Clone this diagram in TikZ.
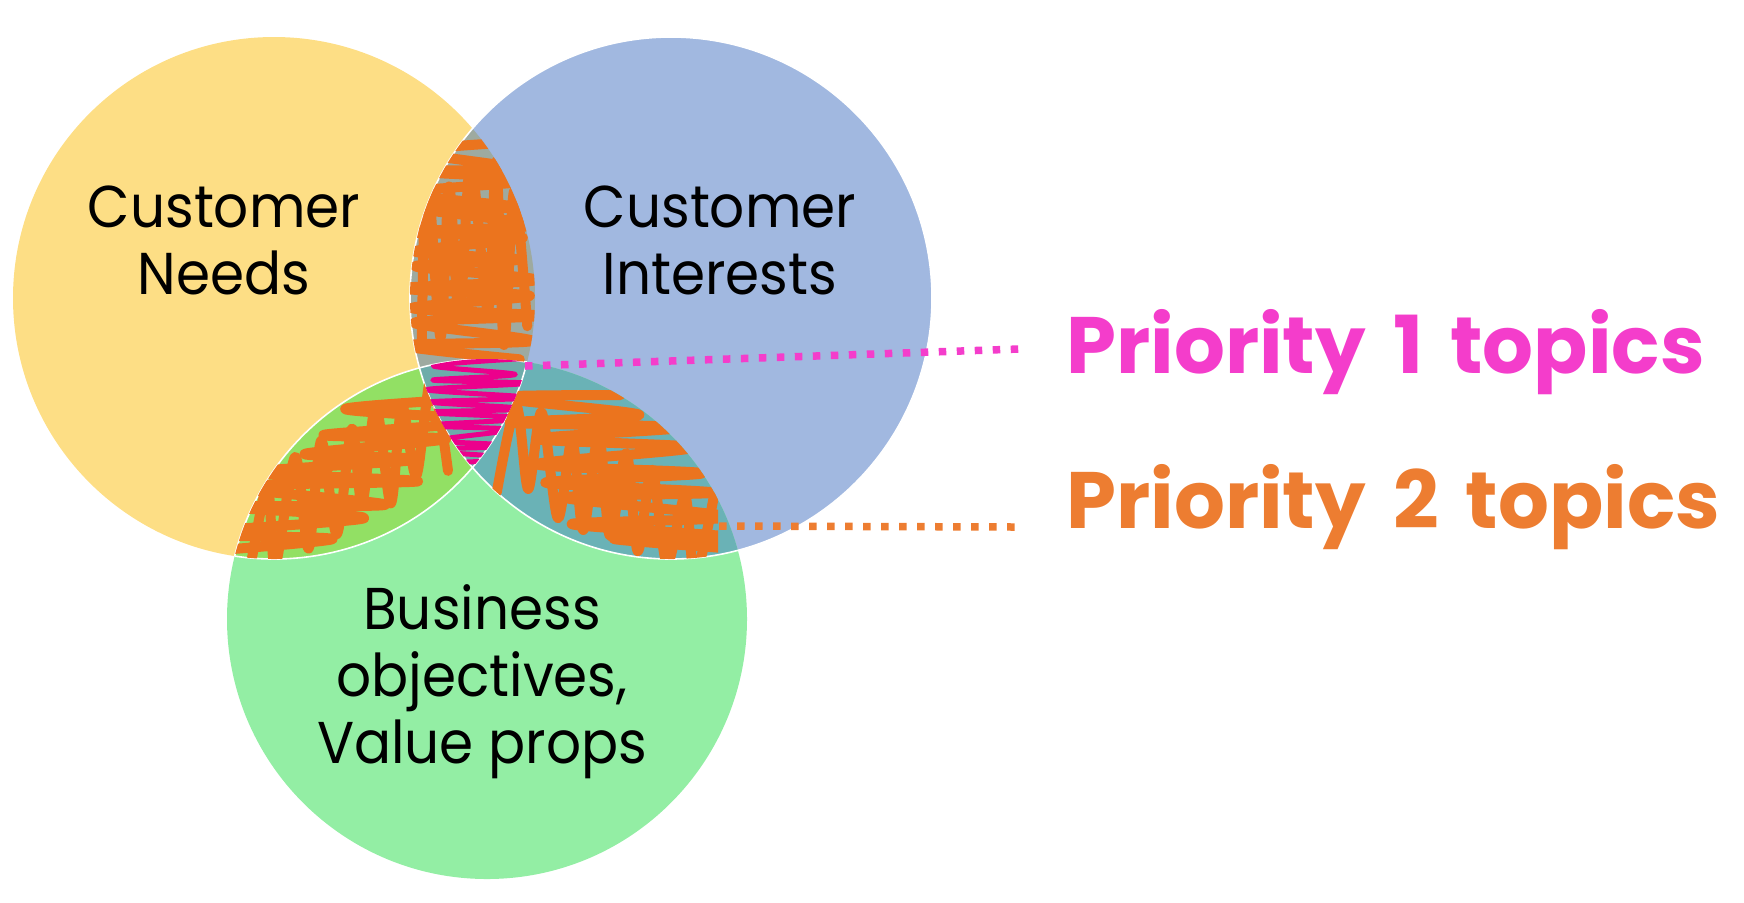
\documentclass[tikz,border=0pt]{standalone}
\usepackage{fontspec}
\setmainfont{Poppins}
\newfontfamily\vennfont[FakeStretch=0.93]{Poppins}
\newfontfamily\priofont[WordSpace=1.6]{Poppins}
\definecolor{needsyellow}{RGB}{253,222,133}
\definecolor{interestblue}{RGB}{161,184,224}
\definecolor{bizgreen}{RGB}{147,238,164}
\definecolor{ybgray}{RGB}{158,170,160}
\definecolor{yggreen}{RGB}{146,224,100}
\definecolor{bgteal}{RGB}{106,178,182}
\definecolor{ybgteal}{RGB}{110,172,170}
\definecolor{scribbleorange}{RGB}{235,116,30}
\definecolor{scribblepink}{RGB}{236,0,140}
\definecolor{prioonepink}{RGB}{244,61,203}
\definecolor{priotwoorange}{RGB}{237,125,49}
\tikzset{
  venntext/.style={align=center, inner sep=0pt, font=\vennfont\fontsize{29.5}{33.5}\selectfont},
  prio/.style={anchor=base west, inner sep=0pt, font=\priofont\bfseries\fontsize{40}{48}\selectfont},
  scribble/.style={line width=5pt, line cap=round, line join=round},
  dotline/.style={line width=3.75pt, dash pattern=on 3.75pt off 5.25pt}
}
\begin{document}
\begin{tikzpicture}[x=0.5pt,y=-0.5pt]
  \useasboundingbox (0,0) rectangle (1744,902);
  \coordinate (cy) at (274,298);
  \coordinate (cb) at (671,298);
  \coordinate (cg) at (487,619);
  \fill[needsyellow] (cy) circle[radius=130.5pt];
  \fill[interestblue] (cb) circle[radius=130.5pt];
  \fill[bizgreen] (cg) circle[radius=130pt];
  \begin{scope}
    \clip (cy) circle[radius=130.5pt];
    \fill[ybgray] (cb) circle[radius=130.5pt];
    \fill[yggreen] (cg) circle[radius=130pt];
  \end{scope}
  \begin{scope}
    \clip (cb) circle[radius=130.5pt];
    \fill[bgteal] (cg) circle[radius=130pt];
    \clip (cy) circle[radius=130.5pt];
    \fill[ybgteal] (cg) circle[radius=130pt];
  \end{scope}
  \begin{scope}[white, line width=0.8pt]
    \draw (cb) circle[radius=130.5pt];
    \begin{scope}
      \clip (cy) circle[radius=130.5pt];
      \draw (cg) circle[radius=130pt];
    \end{scope}
    \begin{scope}
      \clip (cg) circle[radius=130pt];
      \draw (cy) circle[radius=130.5pt];
    \end{scope}
  \end{scope}
  \pgfmathsetseed{17}
  \begin{scope}[even odd rule]
    \clip (cy) circle[radius=130.5pt];
    \clip (cb) circle[radius=130.5pt];
    \clip (0,0) rectangle (1744,902) (cg) circle[radius=130pt];
    \draw[scribble, scribbleorange] plot[smooth, variable=\t, samples=23, domain=0:22]
      ({468+72*cos(180*\t)*(0.7+0.3*rnd)}, {146+9.5*\t+5*rand});
    \draw[scribble, scribbleorange] plot[smooth, variable=\t, samples=11, domain=0:10]
      ({418+11*\t+4*rand}, {250+95*cos(180*\t)*(0.6+0.4*rnd)});
  \end{scope}
  \begin{scope}[even odd rule]
    \clip (cy) circle[radius=130.5pt];
    \clip (0,0) rectangle (1744,902) (cb) circle[radius=130.5pt];
    \clip (cg) circle[radius=130pt];
    \draw[scribble, scribbleorange] plot[smooth, variable=\t, samples=16, domain=0:15]
      ({425-12*\t+90*cos(180*\t)*(0.6+0.4*rnd)}, {400+10*\t+5*rand});
    \draw[scribble, scribbleorange] plot[smooth, variable=\t, samples=15, domain=0:14]
      ({250+14*\t+4*rand}, {530-8*\t+55*cos(180*\t)*(0.6+0.4*rnd)});
  \end{scope}
  \begin{scope}[even odd rule]
    \clip (cb) circle[radius=130.5pt];
    \clip (0,0) rectangle (1744,902) (cy) circle[radius=130.5pt];
    \clip (cg) circle[radius=130pt];
    \clip (480,370) rectangle (718,560);
    \draw[scribble, scribbleorange] plot[smooth, variable=\t, samples=17, domain=0:16]
      ({560+8*\t+95*cos(180*\t)*(0.6+0.4*rnd)}, {392+10*\t+5*rand});
    \draw[scribble, scribbleorange] plot[smooth, variable=\t, samples=16, domain=0:15]
      ({500+14*\t+4*rand}, {440+7*\t+55*cos(180*\t)*(0.6+0.4*rnd)});
  \end{scope}
  \begin{scope}
    \clip (cy) circle[radius=130.5pt];
    \clip (cb) circle[radius=130.5pt];
    \clip (cg) circle[radius=130pt];
    \draw[scribble, scribblepink, line width=2.5pt] plot[smooth, variable=\t, samples=18, domain=0:17]
      ({475+60*cos(180*\t)*(0.6+0.4*rnd)}, {360+6*\t+3*rand});
  \end{scope}
  \node[venntext] (needs) at (224,240) {Customer\\Needs};
  \node[venntext] (interests) at (720,240) {Customer\\Interests};
  \node[venntext] (business) at (482,682) {Business\\objectives,\\Value props};
  \node[prio, text=prioonepink] (p1) at (1066,373) {Priority 1 topics};
  \node[prio, text=priotwoorange] (p2) at (1066,528) {Priority 2 topics};
  \coordinate (p1from) at (525,366);
  \coordinate (p1to) at (1019,349);
  \coordinate (p2from) at (719,526);
  \coordinate (p2to) at (1016,527);
  \draw[dotline, prioonepink] (p1from) -- (p1to);
  \draw[dotline, priotwoorange] (p2from) -- (p2to);
\end{tikzpicture}
\end{document}
